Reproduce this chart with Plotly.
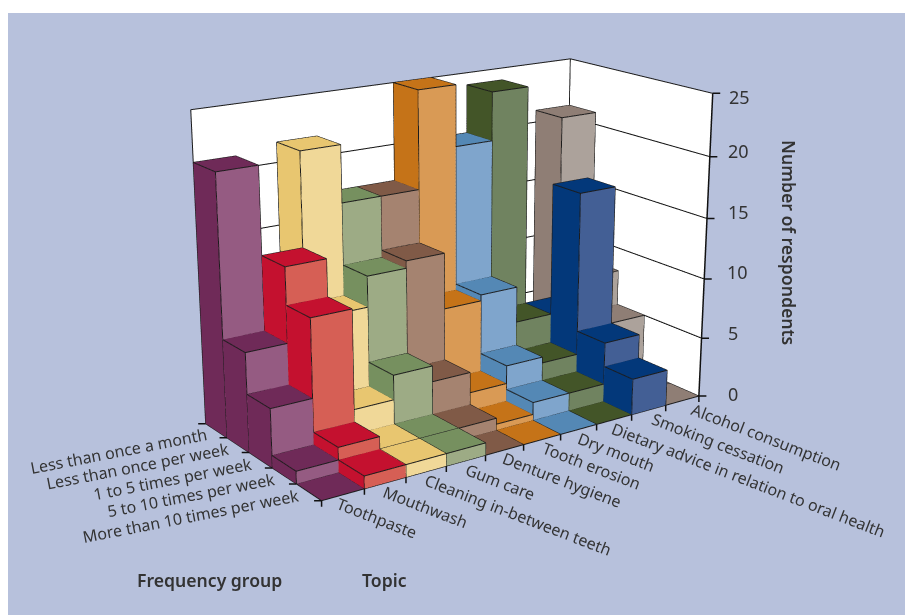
import numpy as np
import plotly.graph_objects as go

topics = ["Toothpaste","Mouthwash","Cleaning in-between teeth","Gum care","Denture hygiene","Tooth erosion","Dry mouth","Dietary advice in relation to oral health","Smoking cessation","Alcohol consumption"]
groups = ["More than 10 times per week","5 to 10 times per week","1 to 5 times per week","Less than once per week","Less than once a month"]
toothpaste = [0,1,4.7,8,21]
mouthwash = [1,2,11,14,3]
cleaning = [1,1,3,9.5,21.6]
gum = [1,1,5,12,17]
denture = [0,1,3.7,12.6,17]
erosion = [0,0.5,2,8,25]
drymouth = [0,1.5,3.5,8.5,20]
dietary = [0,1.5,3,5.5,24]
smoking = [3,5,16.6,5.5,3]
alcohol = [0,0,5,8,21]
series = [toothpaste,mouthwash,cleaning,gum,denture,erosion,drymouth,dietary,smoking,alcohol]
dark = ["#6f2a58","#c4112f","#e8c670","#76905f","#805a47","#c57318","#5488b5","#435528","#03387a","#8f7e75"]
light = ["#955b82","#d65f55","#f0d898","#9dab85","#a58370","#d99a55","#7fa5cc","#708360","#435f95","#aca29b"]
zticks=[0,5,10,15,20,25]
ztick_dx=[27,24,21,19,16,14]
ztick_dy=[2,5,7,6,6,-4]
topic_dx=[-12,-8,-7,-6,-8,-5,-7,-8,-3,3]

W,H=905,615
SW,SH=897,607
eye=(-4.345,-6.216,2.296); cen=(0.296,0.429,-0.414); ax,az=2.024,1.416; F=1799.199
fovy=2*np.arctan((SH/2)/F)

xs=[];ys=[];zs=[];I=[];J=[];K=[];FC=[]
lx=[];ly=[];lz=[]
def quad(a,b,c,d,col):
    base=len(xs)
    for q in (a,b,c,d):
        xs.append(q[0]);ys.append(q[1]);zs.append(q[2])
    I.extend([base,base]);J.extend([base+1,base+2]);K.extend([base+2,base+3]);FC.extend([col,col])
    for q in (a,b,c,d,a):
        lx.append(q[0]);ly.append(q[1]);lz.append(q[2])
    lx.append(None);ly.append(None);lz.append(None)
for i,s in enumerate(series):
    for j,v in enumerate(s):
        x0,x1,y0,y1=i,i+1,j,j+1
        quad((x0,y0,v),(x1,y0,v),(x1,y1,v),(x0,y1,v),dark[i])
        if v>0:
            quad((x0,y0,0),(x1,y0,0),(x1,y0,v),(x0,y0,v),light[i])
            quad((x0,y0,0),(x0,y1,0),(x0,y1,v),(x0,y0,v),dark[i])
xmax,ymax,zmax=len(topics),len(groups),max(zticks)
gx=[];gy=[];gz=[]
for v in zticks[1:-1]:
    gx+= [0,xmax,xmax,None]; gy+=[ymax,ymax,0,None]; gz+=[v,v,v,None]
fig=go.Figure()
fig.add_trace(go.Mesh3d(x=xs,y=ys,z=zs,i=I,j=J,k=K,facecolor=FC,flatshading=True,hoverinfo="skip",
    lighting=dict(ambient=1,diffuse=0,specular=0,fresnel=0,roughness=1)))
fig.add_trace(go.Scatter3d(x=lx,y=ly,z=lz,mode="lines",line=dict(color="#1c1c1c",width=2),hoverinfo="skip",showlegend=False))
fig.add_trace(go.Scatter3d(x=gx,y=gy,z=gz,mode="lines",line=dict(color="#111",width=2),hoverinfo="skip",showlegend=False))
fig.add_trace(go.Scatter3d(x=[0,0,xmax,xmax,None,xmax,xmax],y=[ymax,ymax,ymax,0,None,ymax,ymax],z=[0,zmax,zmax,zmax,None,zmax,0],mode="lines",line=dict(color="#1c1c1c",width=2),hoverinfo="skip",showlegend=False))
fig.add_trace(go.Scatter3d(x=[xmax,xmax],y=[0,0],z=[0,zmax],mode="lines",line=dict(color="#111",width=3),hoverinfo="skip",showlegend=False))
font=dict(family="Noto Sans",size=16,color="#333")
tfont=dict(family="Noto Sans",size=17.6,color="#333",weight=600)
tick=dict(showarrow=True,text=" ",font=dict(size=1),arrowhead=0,arrowwidth=1.5,arrowcolor="#111",borderpad=0,standoff=0)
ann=[]
for i,(t,dx) in enumerate(zip(topics,topic_dx)):
    ann.append(dict(x=i+0.5,y=0,z=0,text=t,showarrow=False,textangle=21,xanchor="left",yanchor="top",xshift=dx,yshift=5,font=font))
for i in range(len(topics)+1):
    ann.append(dict(tick,x=i,y=0,z=0,ax=0,ay=7))
for j,g in enumerate(groups):
    ann.append(dict(x=0,y=j+0.5,z=0,text=g,showarrow=False,textangle=-11,xanchor="right",yanchor="top",xshift=-5,yshift=10,font=font))
for j in range(len(groups)+1):
    ann.append(dict(tick,x=0,y=j,z=0,ax=-8,ay=0))
for v,dx,dy in zip(zticks,ztick_dx,ztick_dy):
    ann.append(dict(x=xmax,y=0,z=v,text=str(v),showarrow=False,xanchor="left",yanchor="middle",xshift=dx,yshift=dy,font=dict(family="Noto Sans",size=18,color="#333")))
    ann.append(dict(tick,x=xmax,y=0,z=v,ax=8,ay=0))
ax3=dict(showbackground=True,backgroundcolor="white",showspikes=False,showticklabels=False,title=dict(text=""),showline=False,ticks="",zeroline=False)
def X(px): return (px-8)/W
def Y(py): return 1-(py-8)/H
fig.update_layout(width=W,height=H,margin=dict(l=0,r=0,t=0,b=0),paper_bgcolor="#b7c1dc",showlegend=False,
    shapes=[dict(type="rect",xref="paper",yref="paper",x0=0,x1=1,y0=Y(13),y1=1,fillcolor="white",line=dict(width=0),layer="below")],
    scene=dict(domain=dict(x=[0,SW/W],y=[1-SH/H,1]),aspectmode="manual",aspectratio=dict(x=ax,y=1,z=az),
        camera=dict(eye=dict(x=eye[0],y=eye[1],z=eye[2]),center=dict(x=cen[0],y=cen[1],z=cen[2]),up=dict(x=0,y=0,z=1)),
        xaxis=dict(ax3,range=[0,xmax],showgrid=False),
        yaxis=dict(ax3,range=[0,ymax],showgrid=False),
        zaxis=dict(ax3,range=[0,zmax],tickvals=zticks,showgrid=False),
        annotations=ann),
    annotations=[
     dict(xref="paper",yref="paper",x=X(789),y=Y(242),xanchor="center",yanchor="middle",text="Number of respondents",textangle=90,showarrow=False,font=tfont),
     dict(xref="paper",yref="paper",x=X(209),y=Y(580),xanchor="center",yanchor="middle",text="Frequency group",showarrow=False,font=tfont),
     dict(xref="paper",yref="paper",x=X(384),y=Y(580),xanchor="center",yanchor="middle",text="Topic",showarrow=False,font=tfont),
    ])
post="""
var de=document.documentElement;de.style.overflow='hidden';
de.style.background='linear-gradient(to right,#fff 8px,transparent 8px),linear-gradient(#fff 13px,#b7c1dc 13px)';
var gd=document.getElementById('{plot_id}');
function setF(){var s=gd._fullLayout.scene._scene; if(!s||!s.glplot){setTimeout(setF,50);return;}
 s.glplot.fovy=%f; s.glplot.redraw();}
setF();
"""%fovy
fig.write_html("out.html",post_script=post,default_width="905px",default_height="615px")
